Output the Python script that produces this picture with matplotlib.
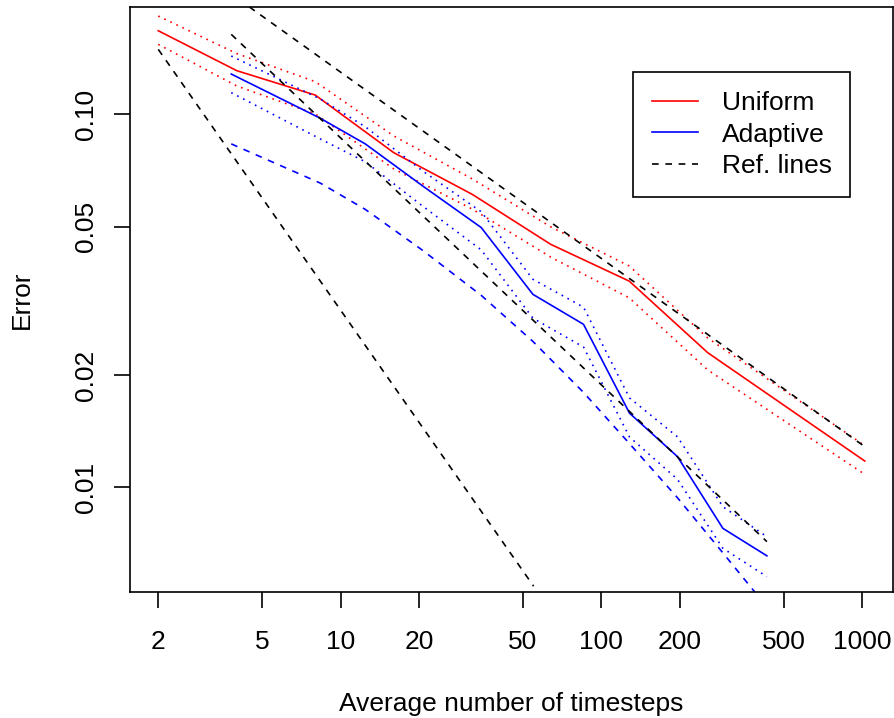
import matplotlib
matplotlib.use("Agg")
import matplotlib.pyplot as plt
from matplotlib.ticker import NullLocator, FixedLocator, FixedFormatter

plt.rcParams['font.family'] = ['Liberation Sans', 'DejaVu Sans']
plt.rcParams['font.size'] = 11.9

# ---------------- data ----------------
# Uniform refinement
uni_x = [2, 4, 8, 16, 32, 64, 128, 256, 1024]
uni_err = [0.1675, 0.1309, 0.1126, 0.0789, 0.0610, 0.0448, 0.0357, 0.02295, 0.01176]
uni_hi = [0.1834, 0.1455, 0.1223, 0.0875, 0.0671, 0.0499, 0.0392, 0.02513, 0.01293]
uni_lo = [0.1540, 0.1191, 0.1002, 0.0714, 0.0557, 0.0414, 0.0322, 0.02063, 0.01083]

# Adaptive refinement
ada_x = [3.81, 8.36, 12.44, 20.81, 34.63, 54.68, 85.46, 128.3, 196.0, 292.6, 431.5]
ada_err = [0.1282, 0.0976, 0.0833, 0.0640, 0.0497, 0.0329, 0.02735, 0.0158, 0.01208, 0.00776, 0.00655]
ada_hi = [0.1433, 0.1099, 0.0926, 0.0702, 0.0548, 0.0361, 0.0304, 0.01736, 0.01365, 0.00887, 0.00737]
ada_lo = [0.1143, 0.0859, 0.0746, 0.0565, 0.0433, 0.0284, 0.02377, 0.01364, 0.01050, 0.00686, 0.00576]
ada_bound = [0.0833, 0.0654, 0.0556, 0.0430, 0.0327, 0.0246, 0.01796, 0.01309, 0.00937, 0.00667, 0.00478]

# Reference lines (end points)
ref1_x = [2, 55]
ref1_y = [0.1493, 0.00543]
ref2_x = [3.81, 431.5]
ref2_y = [0.1638, 0.00715]
ref3_x = [4.47, 1024]
ref3_y = [0.194, 0.01285]

x_ticks = [2, 5, 10, 20, 50, 100, 200, 500, 1000]
x_tick_labels = ["2", "5", "10", "20", "50", "100", "200", "500", "1000"]
y_ticks = [0.01, 0.02, 0.05, 0.10]
y_tick_labels = ["0.01", "0.02", "0.05", "0.10"]

legend_labels = ["Uniform", "Adaptive", "Ref. lines"]

# ---------------- figure ----------------
W, H, DPI = 894, 718, 160
fig = plt.figure(figsize=(W / DPI, H / DPI), dpi=DPI)
L, R, T, B = 130, 893, 6.7, 592
ax = fig.add_axes([L / W, (H - B) / H, (R - L) / W, (B - T) / H])
ax.set_xscale('log')
ax.set_yscale('log')
ax.set_xlim(1.558, 1314)
ax.set_ylim(0.005239, 0.1943)

lw = 0.75
dot = (1, 3)
dash = (4, 4)

l_uni, = ax.plot(uni_x, uni_err, color='#FF0000', lw=lw)
ax.plot(uni_x, uni_hi, color='#FF0000', lw=lw, dashes=dot)
ax.plot(uni_x, uni_lo, color='#FF0000', lw=lw, dashes=dot)

l_ada, = ax.plot(ada_x, ada_err, color='#0000FF', lw=lw)
ax.plot(ada_x, ada_hi, color='#0000FF', lw=lw, dashes=dot)
ax.plot(ada_x, ada_lo, color='#0000FF', lw=lw, dashes=dot)
ax.plot(ada_x, ada_bound, color='#0000FF', lw=lw, dashes=dash)

l_ref, = ax.plot(ref1_x, ref1_y, color='black', lw=lw, dashes=dash)
ax.plot(ref2_x, ref2_y, color='black', lw=lw, dashes=dash)
ax.plot(ref3_x, ref3_y, color='black', lw=lw, dashes=dash)

# axes styling (R base look)
for sp in ax.spines.values():
    sp.set_linewidth(0.75)
    sp.set_color('black')

ax.xaxis.set_major_locator(FixedLocator(x_ticks))
ax.xaxis.set_major_formatter(FixedFormatter(x_tick_labels))
ax.xaxis.set_minor_locator(NullLocator())
ax.yaxis.set_major_locator(FixedLocator(y_ticks))
ax.yaxis.set_major_formatter(FixedFormatter(y_tick_labels))
ax.yaxis.set_minor_locator(NullLocator())

ax.tick_params(axis='x', direction='out', length=7.2, width=0.75, pad=9.7, labelsize=11.9)
ax.tick_params(axis='y', direction='out', length=7.2, width=0.75, pad=7.3, labelsize=11.9)
for t in ax.get_yticklabels():
    t.set_rotation(90)
    t.set_va('center')

ax.set_xlabel("Average number of timesteps", va='baseline', fontsize=11.9)
ax.xaxis.set_label_coords(0.5, (B - 711) / (B - T))
ax.set_ylabel("Error", va='baseline', fontsize=11.9)
ax.yaxis.set_label_coords((29.2 - L) / (R - L), 0.5)

leg = ax.legend([l_uni, l_ada, l_ref], legend_labels,
                loc='upper left',
                bbox_to_anchor=((633 - L) / (R - L), (B - 72.3) / (B - T)),
                bbox_transform=ax.transAxes, borderaxespad=0,
                fancybox=False, shadow=False, framealpha=1, edgecolor='black',
                borderpad=0.70, labelspacing=0.295, handlelength=1.76,
                handletextpad=0.9, fontsize=11.9)
leg.get_frame().set_linewidth(0.75)

fig.savefig("out.png", dpi=DPI)
